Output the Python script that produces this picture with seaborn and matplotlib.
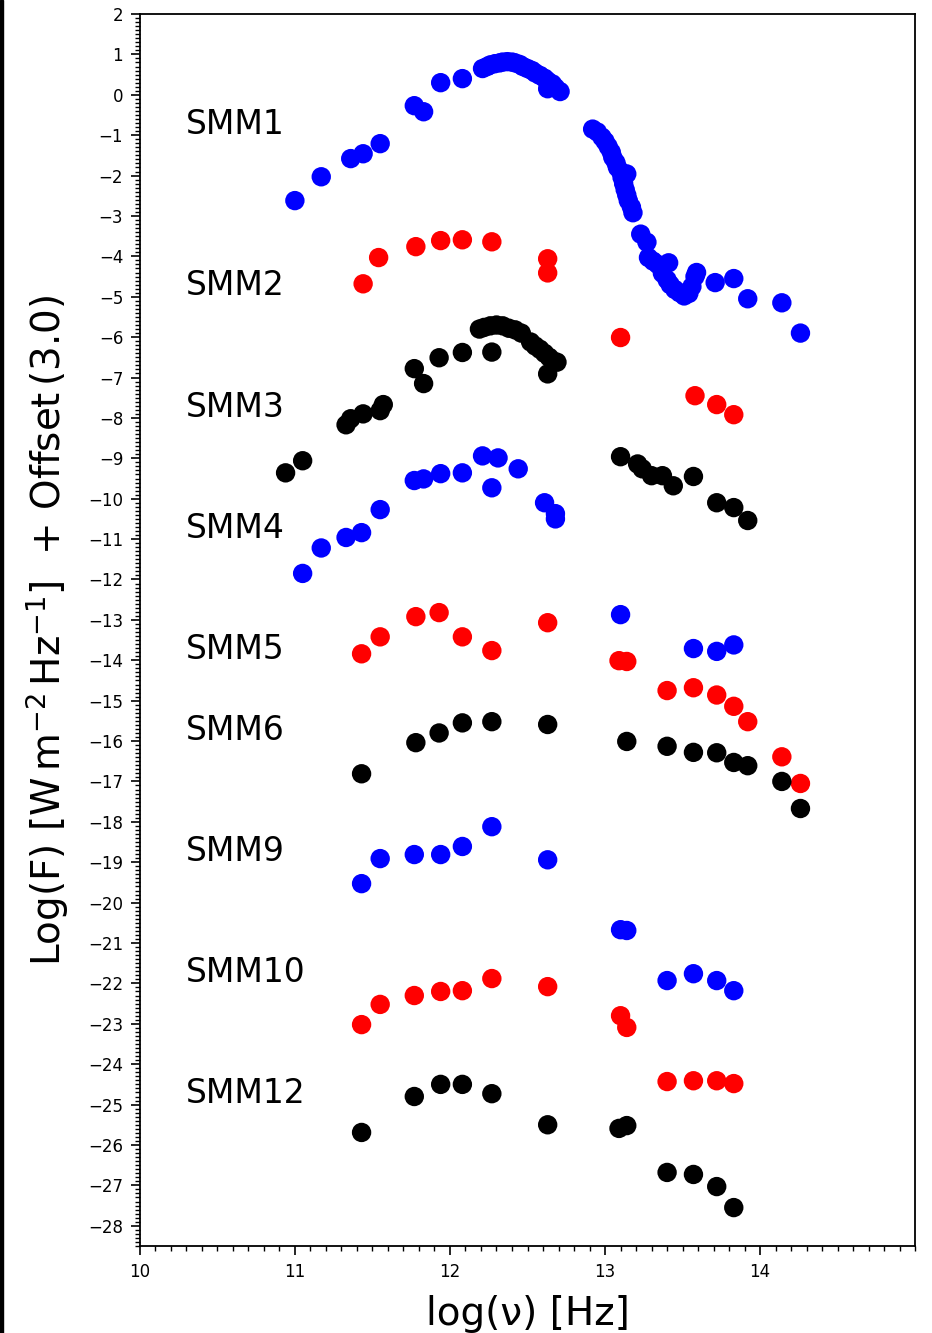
#!/usr/bin/env python3
'''
SED plot of the SMM sources, each shifted by an offset, log(F) vs log(nu).
'''

import matplotlib
matplotlib.use('Agg')
import matplotlib.pyplot as plt
import numpy as np
import pandas as pd
import seaborn as sns
from matplotlib.patches import Rectangle
from matplotlib.ticker import MultipleLocator

# --- data: log(nu) [Hz], log(F) + offset ---
smm1_nu = [11.00, 11.17, 11.36, 11.44, 11.55, 11.77, 11.83, 11.94, 12.08,
           12.21, 12.24, 12.26, 12.29, 12.32, 12.34, 12.37, 12.40, 12.42, 12.45,
           12.47, 12.50, 12.53, 12.55, 12.58, 12.61, 12.63, 12.66, 12.68, 12.71,
           12.63,
           12.92, 12.95, 12.98, 13.00, 13.02, 13.04, 13.05, 13.07, 13.08, 13.10,
           13.14, 13.11, 13.12, 13.13, 13.14, 13.15, 13.17, 13.18, 13.23, 13.27,
           13.28, 13.31, 13.34, 13.41, 13.37, 13.40, 13.42, 13.45, 13.48, 13.51,
           13.54, 13.56, 13.58, 13.59, 13.71, 13.83, 13.92, 14.14, 14.26]
smm1_f = [-2.62, -2.03, -1.58, -1.46, -1.21, -0.27, -0.42, 0.30, 0.40,
          0.65, 0.70, 0.74, 0.77, 0.79, 0.81, 0.82, 0.81, 0.79, 0.75,
          0.70, 0.65, 0.60, 0.54, 0.48, 0.41, 0.34, 0.27, 0.18, 0.08,
          0.15,
          -0.85, -0.92, -1.05, -1.15, -1.28, -1.42, -1.55, -1.68, -1.80, -1.90,
          -1.96, -2.05, -2.20, -2.35, -2.48, -2.62, -2.78, -2.92, -3.45, -3.65,
          -4.03, -4.12, -4.20, -4.16, -4.42, -4.58, -4.70, -4.82, -4.90, -4.98,
          -4.92, -4.75, -4.50, -4.40, -4.65, -4.55, -5.05, -5.15, -5.90]

smm2_nu = [11.44, 11.54, 11.78, 11.94, 12.08, 12.27, 12.63, 12.63, 13.10,
           13.58, 13.72, 13.83]
smm2_f = [-4.68, -4.03, -3.76, -3.61, -3.59, -3.64, -4.06, -4.41, -6.01,
          -7.45, -7.67, -7.92]

smm3_nu = [10.94, 11.05, 11.33, 11.36, 11.44, 11.55, 11.57, 11.77, 11.83, 11.93,
           12.08, 12.27, 12.19, 12.22, 12.26, 12.30, 12.34, 12.38, 12.42, 12.46,
           12.52, 12.55, 12.58, 12.61, 12.64, 12.67, 12.69, 12.63,
           13.10, 13.21, 13.24, 13.30, 13.37, 13.44, 13.57, 13.72, 13.83, 13.92]
smm3_f = [-9.36, -9.06, -8.17, -8.02, -7.90, -7.82, -7.67, -6.78, -7.15, -6.51,
          -6.38, -6.37, -5.80, -5.76, -5.72, -5.70, -5.72, -5.78, -5.82, -5.90,
          -6.12, -6.22, -6.30, -6.40, -6.50, -6.60, -6.62, -6.91,
          -8.96, -9.14, -9.26, -9.43, -9.43, -9.68, -9.45, -10.10, -10.22, -10.54]

smm4_nu = [11.05, 11.17, 11.33, 11.43, 11.55, 11.77, 11.83, 11.94, 12.08, 12.21,
           12.31, 12.27, 12.44, 12.61, 12.68, 12.68, 13.10, 13.57, 13.72, 13.83]
smm4_f = [-11.85, -11.22, -10.96, -10.84, -10.27, -9.55, -9.51, -9.38, -9.36, -8.94,
          -8.99, -9.73, -9.26, -10.10, -10.37, -10.50, -12.87, -13.71, -13.78, -13.62]

smm5_nu = [11.43, 11.55, 11.78, 11.93, 12.08, 12.27, 12.63, 13.09, 13.14,
           13.40, 13.57, 13.72, 13.83, 13.92, 14.14, 14.26]
smm5_f = [-13.84, -13.42, -12.92, -12.82, -13.42, -13.76, -13.07, -14.01, -14.03,
          -14.75, -14.68, -14.86, -15.14, -15.52, -16.39, -17.05]

smm6_nu = [11.43, 11.78, 11.93, 12.08, 12.27, 12.63, 13.14, 13.40, 13.57, 13.72,
           13.83, 13.92, 14.14, 14.26]
smm6_f = [-16.81, -16.04, -15.80, -15.55, -15.52, -15.59, -16.01, -16.13, -16.28, -16.29,
          -16.53, -16.61, -17.00, -17.67]

smm9_nu = [11.43, 11.55, 11.77, 11.94, 12.08, 12.27, 12.63, 13.10, 13.14,
           13.40, 13.57, 13.72, 13.83]
smm9_f = [-19.53, -18.91, -18.81, -18.81, -18.61, -18.12, -18.94, -20.67, -20.69,
          -21.93, -21.76, -21.93, -22.18]

smm10_nu = [11.43, 11.55, 11.77, 11.94, 12.08, 12.27, 12.63, 13.10, 13.14,
            13.40, 13.57, 13.72, 13.83]
smm10_f = [-23.02, -22.52, -22.30, -22.20, -22.18, -21.88, -22.08, -22.80, -23.09,
           -24.43, -24.41, -24.41, -24.48]

smm12_nu = [11.43, 11.77, 11.94, 12.08, 12.27, 12.63, 13.09, 13.14,
            13.40, 13.57, 13.72, 13.83]
smm12_f = [-25.69, -24.80, -24.50, -24.50, -24.73, -25.50, -25.59, -25.52,
           -26.68, -26.73, -27.03, -27.55]

names = ['SMM1', 'SMM2', 'SMM3', 'SMM4', 'SMM5', 'SMM6', 'SMM9', 'SMM10', 'SMM12']
label_y = [-0.73, -4.73, -7.73, -10.73, -13.73, -15.73, -18.73, -21.73, -24.73]
colours = ['blue', 'red', 'black', 'blue', 'red', 'black', 'blue', 'red', 'black']

series = [(smm1_nu, smm1_f), (smm2_nu, smm2_f), (smm3_nu, smm3_f),
          (smm4_nu, smm4_f), (smm5_nu, smm5_f), (smm6_nu, smm6_f),
          (smm9_nu, smm9_f), (smm10_nu, smm10_f), (smm12_nu, smm12_f)]

frames = []
for name, (nu, f) in zip(names, series):
    frames.append(pd.DataFrame({'nu': nu, 'logF': f, 'source': name}))
df = pd.concat(frames, ignore_index=True)

sns.set_style('ticks')
plt.rcParams['font.family'] = ['DejaVu Sans']
plt.rcParams.update({'text.color': 'black', 'axes.labelcolor': 'black',
                     'xtick.color': 'black', 'ytick.color': 'black',
                     'axes.edgecolor': 'black'})

fig = plt.figure(figsize=(9.32, 13.33), dpi=100)
ax = fig.add_axes([0.150, 0.0653, 0.832, 0.9242])

sns.scatterplot(data=df, x='nu', y='logF', hue='source',
                palette=dict(zip(names, colours)), s=195, linewidth=0,
                legend=False, ax=ax)

for name, y in zip(names, label_y):
    ax.text(10.30, y, name, fontsize=23.8, va='center', ha='left', color='black')

ax.set_xlim(10, 15)
ax.set_ylim(-28.5, 2)
ax.xaxis.set_major_locator(MultipleLocator(1))
ax.xaxis.set_minor_locator(MultipleLocator(0.1))
ax.yaxis.set_major_locator(MultipleLocator(1))
ax.yaxis.set_minor_locator(MultipleLocator(0.1))
ax.set_xticks([10, 11, 12, 13, 14])
ax.tick_params(axis='both', which='major', length=6.5, width=1.2, labelsize=12,
               direction='out', pad=5.5)
ax.tick_params(axis='both', which='minor', length=3.5, width=1.0, direction='out')
ax.tick_params(top=False, right=False)
for sp in ax.spines.values():
    sp.set_linewidth(1.3)

ax.set_xlabel('log(ν) [Hz]', fontsize=28, labelpad=10)
ax.set_ylabel(r'Log(F) [W$\,$m$^{-2}\,$Hz$^{-1}$]  + Offset$\,$(3.0)',
              fontsize=28, labelpad=12)

# dark edge on the left of the original screenshot
fig.add_artist(Rectangle((0, 0), 3 / 932, 1, transform=fig.transFigure,
                         color='black', zorder=10))

plt.savefig('out.png', dpi=100)
